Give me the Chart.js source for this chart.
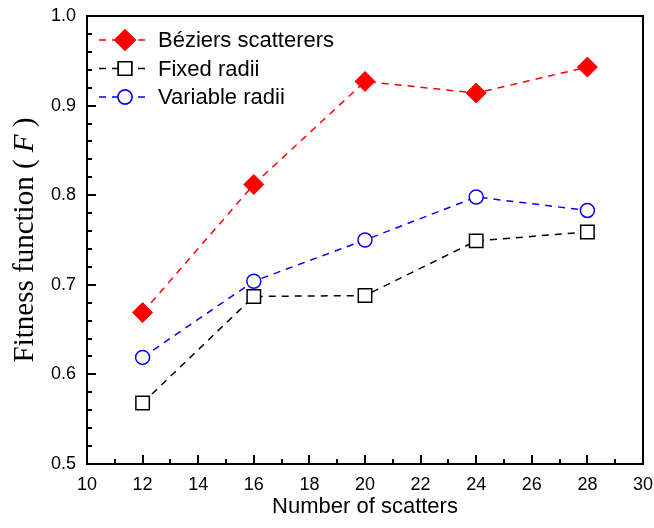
<!DOCTYPE html>
<html>
<head>
<meta charset="utf-8">
<script src="https://cdn.jsdelivr.net/npm/chart.js@4/dist/chart.umd.min.js"></script>
<style>
  html, body { margin: 0; padding: 0; background: #fff; }
  canvas { display: block; }
</style>
</head>
<body>
<canvas id="chart" width="654" height="528"></canvas>
<script>
// 散乱体の数
const scatterCounts = [12, 16, 20, 24, 28];
// 各手法の適応度関数の値
const bezierValues = [0.669, 0.812, 0.927, 0.914, 0.943];
const fixedValues = [0.568, 0.687, 0.688, 0.749, 0.759];
const variableValues = [0.619, 0.704, 0.750, 0.798, 0.783];
// 軸の目盛
const xTicks = [10, 12, 14, 16, 18, 20, 22, 24, 26, 28, 30];
const yTicks = [0.5, 0.6, 0.7, 0.8, 0.9, 1.0];
const legendLabels = ["Béziers scatterers", "Fixed radii", "Variable radii"];

const toPoints = (values) => values.map((v, i) => ({ x: scatterCounts[i], y: v }));

// 枠線と内向きの目盛を描く
const framePlugin = {
  id: "frame",
  afterDraw(chart) {
    const { ctx, chartArea: a, scales } = chart;
    ctx.save();
    ctx.strokeStyle = "#000";
    ctx.lineWidth = 2;
    ctx.strokeRect(a.left, a.top, a.right - a.left, a.bottom - a.top);

    ctx.beginPath();
    const xMin = xTicks[0], xMax = xTicks[xTicks.length - 1];
    for (let v = xMin; v <= xMax; v += 1) {
      const px = Math.round(scales.x.getPixelForValue(v));
      const len = v % 2 === 0 ? 9 : 5;
      ctx.moveTo(px, a.bottom);
      ctx.lineTo(px, a.bottom - len);
    }
    for (let i = 0; i <= 25; i++) {
      const v = yTicks[0] + i * 0.02;
      const py = Math.round(scales.y.getPixelForValue(v));
      const len = i % 5 === 0 ? 9 : 5;
      ctx.moveTo(a.left, py);
      ctx.lineTo(a.left + len, py);
    }
    ctx.stroke();

    // 軸タイトル
    ctx.fillStyle = "#000";
    ctx.textAlign = "center";
    ctx.textBaseline = "alphabetic";
    ctx.font = "22px 'Liberation Sans', Arial, sans-serif";
    ctx.fillText("Number of scatters", (a.left + a.right) / 2, 513);

    ctx.translate(33, (a.top + a.bottom) / 2);
    ctx.rotate(-Math.PI / 2);
    const serif = "'Liberation Serif', 'Times New Roman', serif";
    const parts = [
      { t: "Fitness function ( ", f: "29px " + serif },
      { t: "F", f: "italic 29px " + serif },
      { t: " )", f: "29px " + serif },
    ];
    let total = 0;
    parts.forEach((p) => { ctx.font = p.f; total += ctx.measureText(p.t).width; });
    let x = -total / 2;
    ctx.textAlign = "left";
    parts.forEach((p) => {
      ctx.font = p.f;
      ctx.fillText(p.t, x, 0);
      x += ctx.measureText(p.t).width;
    });
    ctx.restore();
  },
};

// 凡例（グラフ内の左上）
const legendPlugin = {
  id: "insideLegend",
  afterDraw(chart) {
    const { ctx, chartArea: a } = chart;
    ctx.save();
    chart.data.datasets.forEach((ds, i) => {
      const y = a.top + 24 + i * 28.5;
      const x0 = a.left + 12;
      const xm = x0 + 26;
      ctx.strokeStyle = ds.borderColor;
      ctx.lineWidth = 1.5;
      ctx.setLineDash([7, 6]);
      ctx.beginPath();
      ctx.moveTo(x0, y);
      ctx.lineTo(x0 + 52, y);
      ctx.stroke();
      ctx.setLineDash([]);
      Chart.helpers.drawPoint(ctx, {
        pointStyle: ds.pointStyle,
        radius: ds.pointRadius,
        borderWidth: ds.borderWidth,
        rotation: 0,
      }, xm, y);
      ctx.fillStyle = ds.pointBackgroundColor;
      ctx.strokeStyle = ds.pointBorderColor;
      ctx.fill();
      ctx.stroke();
      ctx.fillStyle = "#000";
      ctx.font = "22px 'Liberation Sans', Arial, sans-serif";
      ctx.textBaseline = "middle";
      ctx.fillText(ds.label, x0 + 59, y + 1);
    });
    ctx.restore();
  },
};

const tickFont = { family: "'Liberation Sans', Arial, sans-serif", size: 18 };

new Chart(document.getElementById("chart"), {
  type: "line",
  data: {
    datasets: [
      {
        label: legendLabels[0],
        data: toPoints(bezierValues),
        borderColor: "#ff0000",
        borderWidth: 1.5,
        borderDash: [7, 6],
        pointStyle: "rectRot",
        pointRadius: 10,
        pointBackgroundColor: "#ff0000",
        pointBorderColor: "#ff0000",
        pointBorderWidth: 1,
      },
      {
        label: legendLabels[1],
        data: toPoints(fixedValues),
        borderColor: "#000000",
        borderWidth: 1.5,
        borderDash: [7, 6],
        pointStyle: "rect",
        pointRadius: 9.5,
        pointBackgroundColor: "#ffffff",
        pointBorderColor: "#000000",
        pointBorderWidth: 1.5,
      },
      {
        label: legendLabels[2],
        data: toPoints(variableValues),
        borderColor: "#0000ff",
        borderWidth: 1.5,
        borderDash: [7, 6],
        pointStyle: "circle",
        pointRadius: 7,
        pointBackgroundColor: "#ffffff",
        pointBorderColor: "#0000ff",
        pointBorderWidth: 1.5,
      },
    ],
  },
  options: {
    responsive: false,
    animation: false,
    events: [],
    layout: { padding: { left: 0, right: 11, top: 16, bottom: 0 } },
    elements: { line: { tension: 0 } },
    plugins: {
      legend: { display: false },
      tooltip: { enabled: false },
    },
    scales: {
      x: {
        type: "linear",
        min: xTicks[0],
        max: xTicks[xTicks.length - 1],
        afterBuildTicks: (scale) => { scale.ticks = xTicks.map((v) => ({ value: v })); },
        afterFit: (scale) => {
          scale.height = 64;
          scale.paddingLeft = 0;
          scale.paddingRight = 0;
        },
        grid: { display: false, drawTicks: false },
        border: { display: false },
        ticks: { color: "#000", font: tickFont, padding: 10, maxRotation: 0, autoSkip: false },
      },
      y: {
        type: "linear",
        min: yTicks[0],
        max: yTicks[yTicks.length - 1],
        afterBuildTicks: (scale) => { scale.ticks = yTicks.map((v) => ({ value: v })); },
        afterFit: (scale) => {
          scale.width = 87;
          scale.paddingTop = 0;
          scale.paddingBottom = 0;
        },
        grid: { display: false, drawTicks: false },
        border: { display: false },
        ticks: { color: "#000", font: tickFont, padding: 11, callback: (v) => v.toFixed(1) },
      },
    },
  },
  plugins: [framePlugin, legendPlugin],
});
</script>
</body>
</html>
